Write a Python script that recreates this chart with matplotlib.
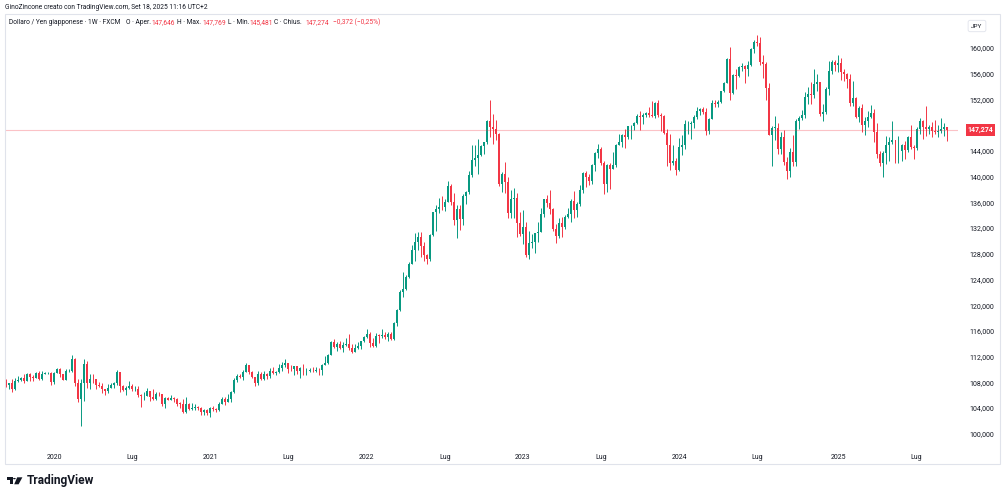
import numpy as np
import pandas as pd
import matplotlib
matplotlib.use("Agg")
import matplotlib.pyplot as plt
import matplotlib.transforms as mtransforms
from matplotlib.patches import Rectangle, Polygon, Circle

plt.rcParams['font.family'] = ['Roboto', 'DejaVu Sans']

# USD/JPY weekly candles (FXCM)
# open of each week = close of the week before
first_week = "2019-09-16"
first_open = 108.08

close_2019 = [107.56, 107.92, 106.93, 108.29, 108.43, 108.67, 108.19, 109.26, 108.77, 108.67,
              109.48, 108.58, 109.38, 109.42, 109.43, 108.10]
high_2019 = [108.48, 107.97, 108.47, 108.63, 108.94, 108.89, 109.29, 109.49, 109.48, 109.12,
             109.61, 109.73, 109.70, 109.64, 109.68, 109.56]
low_2019 = [107.30, 106.96, 106.48, 106.77, 108.06, 108.25, 107.89, 108.24, 108.24, 108.25,
            108.61, 108.42, 108.43, 109.24, 109.28, 107.65]

close_2020 = [109.49, 110.14, 109.28, 108.35, 109.74, 109.78, 111.60, 107.89, 105.39, 107.93,
              110.83, 107.93, 108.48, 108.45, 107.55, 107.50, 106.92, 106.64, 107.08, 107.63,
              107.83, 109.60, 107.38, 106.89, 107.20, 107.51, 106.92, 107.00, 106.09, 105.83,
              105.93, 106.60, 105.80, 105.37, 106.24, 106.14, 104.57, 105.58, 105.31, 105.61,
              105.40, 104.71, 104.66, 103.35, 104.62, 103.86, 104.09, 104.18, 104.04, 103.35,
              103.63, 103.25]
high_2020 = [109.69, 110.29, 110.20, 109.34, 110.02, 110.14, 112.23, 111.72, 108.52, 108.56,
             111.71, 111.31, 109.38, 109.38, 108.59, 108.05, 107.84, 107.01, 107.77, 107.96,
             108.08, 109.85, 109.40, 107.64, 107.44, 108.16, 107.79, 107.45, 107.43, 106.17,
             106.48, 107.05, 106.63, 107.04, 106.55, 106.50, 106.17, 105.80, 105.80, 106.11,
             105.75, 105.53, 104.92, 105.35, 105.68, 104.84, 104.76, 104.58, 104.36, 104.13,
             103.90, 103.85]
low_2020 = [107.77, 109.43, 108.83, 108.31, 108.32, 109.55, 109.68, 107.49, 104.99, 101.18,
            105.15, 107.13, 106.92, 107.98, 106.92, 107.25, 106.35, 106.04, 106.42, 107.08,
            107.09, 107.55, 106.58, 106.66, 106.08, 106.94, 106.64, 106.67, 105.68, 104.19,
            105.30, 105.81, 105.10, 105.20, 105.19, 105.88, 104.28, 104.00, 105.20, 105.20,
            104.96, 104.34, 104.02, 103.18, 103.20, 103.65, 103.65, 103.65, 103.77, 102.87,
            103.00, 102.95]

close_2021 = [103.94, 103.88, 103.77, 104.68, 105.38, 104.95, 105.43, 106.57, 108.33, 109.04,
              108.88, 109.66, 110.70, 109.66, 108.80, 107.88, 109.30, 108.60, 109.35, 108.95,
              109.84, 109.50, 109.67, 110.21, 110.77, 111.04, 110.14, 110.06, 110.55, 109.71,
              110.24, 109.59, 109.79, 109.83, 109.71, 109.94, 109.91, 110.74, 111.05, 112.24,
              114.22, 113.47, 113.96, 113.42, 113.88, 114.00, 113.38, 112.80, 113.40, 113.72,
              114.38, 115.08]
high_2021 = [104.10, 104.40, 104.09, 104.94, 105.77, 105.65, 106.22, 106.69, 108.64, 109.23,
             109.36, 109.85, 110.97, 110.48, 109.77, 108.90, 109.70, 109.69, 109.79, 109.45,
             110.20, 110.33, 109.83, 110.82, 111.10, 111.66, 111.07, 110.70, 110.59, 110.59,
             110.37, 110.80, 110.27, 110.26, 110.43, 110.44, 110.19, 110.79, 112.08, 112.40,
             114.47, 114.70, 114.32, 114.44, 114.30, 114.97, 115.52, 113.95, 113.95, 114.26,
             114.49, 115.21]
low_2021 = [102.59, 103.52, 103.33, 103.55, 104.60, 104.41, 104.92, 104.92, 106.37, 108.10,
            108.61, 108.41, 109.62, 109.36, 108.61, 107.48, 107.62, 108.34, 108.34, 108.56,
            108.72, 109.33, 109.19, 109.49, 109.71, 110.42, 109.53, 109.72, 109.07, 109.36,
            108.72, 109.12, 109.11, 109.61, 109.59, 109.58, 109.12, 109.11, 110.66, 110.82,
            112.19, 113.42, 112.95, 113.18, 112.72, 113.58, 113.06, 112.53, 112.79, 113.12,
            113.14, 114.32]

close_2022 = [115.56, 114.20, 113.66, 115.24, 115.23, 115.43, 115.00, 115.55, 114.81, 117.30,
              119.18, 122.05, 122.53, 124.34, 126.41, 128.53, 129.80, 130.56, 129.21, 127.87,
              127.11, 130.88, 134.43, 134.99, 135.21, 135.20, 136.10, 138.59, 136.11, 133.26,
              135.00, 133.46, 137.00, 137.63, 140.21, 142.55, 142.91, 143.35, 144.72, 145.32,
              148.72, 147.65, 147.47, 146.60, 138.78, 140.38, 139.20, 134.30, 136.59, 136.68,
              132.79, 131.11]
high_2022 = [116.35, 115.83, 114.89, 115.69, 115.57, 116.34, 115.86, 115.76, 115.80, 117.35,
             119.41, 122.44, 125.10, 124.68, 126.68, 129.41, 131.25, 131.35, 131.34, 129.77,
             128.00, 131.00, 134.57, 135.59, 136.71, 137.00, 136.57, 139.39, 138.88, 137.46,
             135.58, 135.58, 137.23, 137.70, 140.80, 144.99, 144.96, 145.90, 144.93, 145.43,
             148.87, 151.95, 149.71, 148.85, 146.79, 140.79, 142.25, 139.89, 137.86, 138.18,
             137.48, 134.50]
low_2022 = [114.94, 113.48, 113.47, 113.46, 114.16, 114.88, 114.74, 114.40, 114.65, 114.65,
            116.70, 119.11, 121.28, 122.43, 124.27, 126.35, 126.95, 128.62, 127.52, 126.87,
            126.36, 126.88, 130.84, 131.50, 134.27, 134.75, 134.73, 136.00, 135.57, 132.50,
            130.40, 131.73, 132.55, 135.80, 137.37, 139.89, 141.66, 140.36, 143.26, 143.53,
            145.06, 146.18, 145.11, 145.65, 138.47, 137.68, 137.50, 133.62, 133.63, 133.64,
            130.58, 130.78]

close_2023 = [132.09, 127.87, 129.60, 129.89, 131.17, 131.40, 134.19, 136.48, 135.85, 134.95,
              131.84, 130.71, 132.80, 132.17, 133.77, 134.15, 136.27, 134.83, 135.69, 137.98,
              140.60, 139.98, 139.38, 141.83, 143.71, 144.31, 142.14, 138.79, 141.82, 141.19,
              141.75, 144.95, 145.38, 146.42, 146.18, 147.83, 147.85, 148.38, 149.36, 149.29,
              149.57, 149.86, 149.66, 149.39, 151.52, 149.60, 149.44, 146.80, 144.95, 142.16,
              142.42, 141.00]
high_2023 = [134.77, 132.88, 131.58, 131.12, 131.20, 132.90, 135.11, 136.51, 137.10, 137.91,
             135.10, 132.65, 133.56, 133.76, 134.10, 135.13, 136.56, 137.77, 136.00, 138.75,
             140.73, 140.93, 140.46, 141.99, 143.86, 145.07, 144.63, 142.45, 142.00, 142.07,
             143.89, 145.08, 146.56, 146.64, 147.37, 147.87, 147.95, 148.47, 149.71, 150.16,
             149.83, 150.08, 150.78, 151.72, 151.60, 151.91, 149.94, 149.66, 147.44, 146.59,
             144.96, 142.82]
low_2023 = [129.51, 127.46, 127.22, 128.97, 128.08, 129.81, 131.51, 133.79, 135.26, 134.12,
            131.57, 129.64, 130.40, 130.63, 131.79, 133.55, 133.01, 133.49, 133.74, 135.49,
            137.52, 138.43, 138.75, 138.83, 140.89, 142.94, 141.73, 137.24, 137.67, 138.06,
            141.46, 141.51, 144.85, 144.53, 144.44, 145.91, 145.90, 147.32, 148.13, 147.30,
            148.17, 149.28, 149.33, 149.20, 149.18, 149.20, 147.15, 146.67, 141.62, 140.97,
            141.77, 140.25]

close_2024 = [144.65, 144.95, 148.14, 148.18, 148.38, 149.28, 150.22, 150.51, 150.10, 147.06,
              149.03, 151.43, 151.34, 151.62, 153.28, 154.62, 158.34, 152.97, 155.78, 155.63,
              156.98, 157.26, 156.74, 157.38, 159.80, 160.88, 160.76, 157.85, 157.50, 153.76,
              146.54, 147.63, 147.63, 144.36, 146.20, 142.30, 140.80, 143.86, 142.20, 148.70,
              149.15, 149.51, 152.32, 152.90, 152.63, 154.33, 154.76, 149.79, 150.00, 153.65,
              156.44, 157.89, 157.34]
high_2024 = [145.98, 146.41, 148.81, 148.70, 148.58, 149.58, 150.89, 150.68, 150.84, 150.65,
             149.16, 151.86, 151.97, 151.94, 153.39, 154.79, 158.44, 160.21, 155.95, 156.79,
             157.19, 157.71, 157.30, 157.93, 159.94, 161.28, 161.95, 161.77, 158.86, 157.86,
             154.52, 147.90, 149.40, 148.37, 146.87, 147.21, 143.06, 144.49, 146.49, 149.03,
             149.39, 150.32, 153.19, 153.88, 154.71, 156.75, 155.89, 154.71, 151.24, 153.89,
             157.93, 158.08, 158.21]
low_2024 = [140.81, 143.42, 144.35, 146.65, 145.90, 147.62, 148.91, 149.51, 149.72, 146.48,
            146.56, 148.92, 150.81, 150.81, 151.38, 153.12, 154.54, 151.86, 152.80, 153.60,
            155.43, 156.38, 154.55, 155.72, 157.14, 159.30, 160.27, 157.43, 155.36, 151.95,
            146.41, 141.68, 145.71, 143.44, 143.44, 141.75, 139.58, 139.95, 141.66, 141.64,
            147.35, 148.80, 149.09, 151.29, 151.34, 152.18, 153.28, 149.47, 148.64, 149.79,
            152.67, 156.02, 156.40]

close_2025 = [157.74, 156.29, 156.02, 155.18, 151.40, 152.30, 149.25, 150.60, 147.99, 148.64,
              149.30, 149.82, 146.89, 143.52, 142.18, 143.62, 144.92, 145.37, 145.70, 142.56,
              144.00, 144.86, 144.08, 146.09, 144.64, 144.46, 147.41, 148.63, 147.65, 147.40,
              147.71, 147.17, 146.94, 147.06, 147.43, 147.646, 147.274]
high_2025 = [158.88, 158.40, 156.78, 156.16, 155.89, 154.80, 152.37, 150.98, 151.29, 149.20,
             150.16, 151.20, 150.48, 148.28, 144.00, 143.98, 146.28, 146.19, 148.65, 145.39,
             146.28, 145.07, 145.47, 146.28, 148.03, 144.97, 147.72, 149.19, 148.77, 150.92,
             148.05, 148.51, 148.78, 147.98, 149.14, 148.28, 147.769]
low_2025 = [156.24, 154.97, 154.80, 153.71, 150.94, 150.96, 149.11, 148.56, 146.94, 146.54,
            147.73, 149.12, 145.41, 142.96, 141.62, 139.89, 141.97, 142.36, 145.14, 142.11,
            142.12, 142.38, 142.80, 143.76, 144.27, 142.68, 144.20, 146.63, 145.86, 146.33,
            146.62, 146.21, 146.57, 146.21, 146.82, 146.31, 145.481]

price_ticks = [100, 104, 108, 112, 116, 120, 124, 128, 132, 136, 140, 144, 148, 152, 156, 160]
last_price = 147.274

closes = np.array(close_2019 + close_2020 + close_2021 + close_2022 + close_2023 + close_2024 + close_2025)
highs = np.array(high_2019 + high_2020 + high_2021 + high_2022 + high_2023 + high_2024 + high_2025)
lows = np.array(low_2019 + low_2020 + low_2021 + low_2022 + low_2023 + low_2024 + low_2025)
opens = np.concatenate([[first_open], closes[:-1]])
highs = np.maximum(highs, np.maximum(opens, closes))
lows = np.minimum(lows, np.minimum(opens, closes))
dates = pd.date_range(first_week, periods=len(closes), freq="W-MON")
x = np.arange(len(closes))

UP, DOWN, TXT = '#089981', '#f23645', '#131722'
W, H = 1004, 497


def fx(px):
    return px / W


def fy(py):
    return 1 - py / H


fig = plt.figure(figsize=(W / 100, H / 100), dpi=100)
fig.patch.set_facecolor('white')

ax = fig.add_axes([fx(5), fy(447), (958 - 5) / W, (447 - 14) / H])
colors = np.where(closes >= opens, UP, DOWN)
ax.vlines(x, lows, highs, colors=colors, lw=0.7)
ax.bar(x, np.maximum(np.abs(closes - opens), 0.08), bottom=np.minimum(opens, closes),
       width=0.66, color=colors, lw=0)
ax.axhline(last_price, color=DOWN, alpha=0.3, lw=0.8)

ax.set_xlim(-0.33, 316.8)
ax.set_ylim(97.95, 165.29)
for s in ax.spines.values():
    s.set_visible(False)

# time axis: first bar of January (year) and July ("Lug")
tick_pos, tick_lab = [], []
for i in range(1, len(dates)):
    if dates[i].month != dates[i - 1].month and dates[i].month in (1, 7):
        tick_pos.append(i)
        tick_lab.append(str(dates[i].year) if dates[i].month == 1 else 'Lug')
ax.set_xticks(tick_pos)
ax.set_xticklabels(tick_lab)
ax.tick_params(axis='x', length=0, pad=5, labelsize=5, labelcolor=TXT)

ax.yaxis.tick_right()
ax.set_yticks(price_ticks)
ax.set_yticklabels([f"{v:.3f}".replace('.', ',') for v in price_ticks])
ax.tick_params(axis='y', length=0, pad=8, labelsize=5, labelcolor=TXT)

# last price tag on the price scale
tr = mtransforms.blended_transform_factory(fig.transFigure, ax.transData)
ax.text(fx(980.5), last_price, f"{last_price:.3f}".replace('.', ','), transform=tr,
        ha='center', va='center', fontsize=5, color='white', fontweight='bold',
        bbox=dict(boxstyle='square,pad=0.3', fc=DOWN, ec='none'), clip_on=False)

# frame
fig.patches.append(Rectangle((fx(5), fy(464)), (1000 - 5) / W, (464 - 14) / H,
                             transform=fig.transFigure, fill=False, ec='#e0e3eb', lw=0.8))

fig.text(fx(977), fy(26), 'JPY', ha='center', va='center', fontsize=4.6, color=TXT,
         bbox=dict(boxstyle='round,pad=0.5,rounding_size=0.3', fc='white', ec='#e0e3eb', lw=0.6))

# header and legend line
fig.text(fx(5), fy(7.5), 'GinoZincone creato con TradingView.com, Set 18, 2025 11:16 UTC+2',
         ha='left', va='center', fontsize=4.8, color=TXT)
legend_parts = [
    (8.7, 'Dollaro / Yen giapponese · 1W · FXCM', TXT),
    (126, 'O · Aper.', TXT), (151, '147,646', DOWN),
    (177, 'H · Max.', TXT), (202, '147,769', DOWN),
    (228, 'L · Min.', TXT), (249, '145,481', DOWN),
    (274, 'C · Chius.', TXT), (305, '147,274', DOWN),
    (333, '−0,372 (−0,25%)', DOWN),
]
for px, s, c in legend_parts:
    fig.text(fx(px), fy(22.5), s, ha='left', va='center', fontsize=4.8, color=c)

# TradingView logo
fig.patches.append(Polygon([(fx(6.7), fy(477.3)), (fx(12.6), fy(477.3)), (fx(12.6), fy(484.3)),
                            (fx(9.6), fy(484.3)), (fx(9.6), fy(479.8)), (fx(6.7), fy(479.8))],
                           closed=True, transform=fig.transFigure, fc=TXT, ec='none'))
fig.patches.append(Circle((fx(14.4), fy(478.6)), 1.35 / W, transform=fig.transFigure,
                          fc=TXT, ec='none'))
fig.patches.append(Polygon([(fx(17.2), fy(477.3)), (fx(22.4), fy(477.3)), (fx(18.6), fy(484.3)),
                            (fx(14.2), fy(484.3))],
                           closed=True, transform=fig.transFigure, fc=TXT, ec='none'))
fig.text(fx(26.5), fy(480.8), 'TradingView', ha='left', va='center', fontsize=8.6,
         fontweight='bold', color=TXT)

fig.savefig('out.png', dpi=100, facecolor='white')
